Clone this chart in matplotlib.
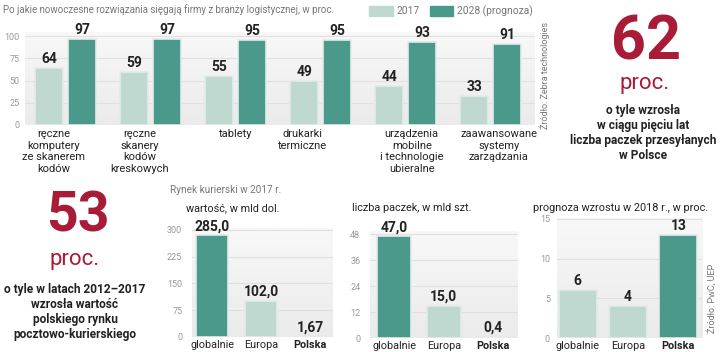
import numpy as np
import matplotlib
matplotlib.use("Agg")
import matplotlib.pyplot as plt
from matplotlib.patches import Patch
from matplotlib.colors import LinearSegmentedColormap

W, H = 720, 352
plt.rcParams["font.family"] = ["Roboto", "DejaVu Sans"]

LIGHT = "#bfd9d0"
DARK = "#4b998a"
RED = "#a81c38"
GREY = "#777777"
INK = "#222222"
EDGE = "#e4ebe8"

# --- data: top chart ---
tech_labels = ["ręczne\nkomputery\nze skanerem\nkodów", "ręczne\nskanery\nkodów\nkreskowych",
               "tablety", "drukarki\ntermiczne",
               "urządzenia\nmobilne\ni technologie\nubieralne", "zaawansowane\nsystemy\nzarządzania"]
v2017 = [64, 59, 55, 49, 44, 33]
v2028 = [97, 97, 95, 95, 93, 91]
top_ticks = [0, 25, 50, 75, 100]
label_dx = [-12, -11, 0, -18, 6, 8]   # px nudges of the category labels, as in the original

# --- data: bottom charts ---
regions = ["globalnie", "Europa", "Polska"]
value_mld = [285.0, 102.0, 1.67]
value_lbl = ["285,0", "102,0", "1,67"]
value_ticks = [0, 75, 150, 225, 300]
parcels = [47.0, 15.0, 0.4]
parcels_lbl = ["47,0", "15,0", "0,4"]
parcels_ticks = [0, 12, 24, 36, 48]
growth = [6, 4, 13]
growth_lbl = ["6", "4", "13"]
growth_ticks = [0, 5, 10, 15]

bg = LinearSegmentedColormap.from_list("bg", ["#f8f8f8", "#ebebeb"])


def px_axes(fig, x0, y0, x1, y1):
    # pixel box (top-left origin) -> figure axes
    return fig.add_axes([x0 / W, 1 - y1 / H, (x1 - x0) / W, (y1 - y0) / H])


def fxy(x, y):
    return x / W, 1 - y / H


def panel(ax, ticks, pad):
    grad = np.linspace(0, 1, 50).reshape(-1, 1)
    ax.imshow(grad, extent=[0, 1, 0, 1], transform=ax.transAxes, aspect="auto",
              cmap=bg, zorder=0)
    for s in ax.spines.values():
        s.set_visible(False)
    ax.set_yticks(ticks)
    ax.set_yticklabels([str(t) for t in ticks])
    ax.tick_params(axis="y", length=0, labelsize=6.5, labelcolor="#999999", pad=pad)
    ax.tick_params(axis="x", length=0)
    for t in ticks[1:]:
        ax.axhline(t, color="#e0e0e0", lw=0.8, zorder=1)
    ax.set_xticks([])


fig = plt.figure(figsize=(W / 100, H / 100), dpi=100)

# ---------- top chart ----------
ax = px_axes(fig, 25, 32, 535, 125)
panel(ax, top_ticks, 4)
ax.set_ylim(0, 104.5)
ax.set_xlim(-0.48, 5.52)
x = np.arange(len(tech_labels))
off, bw = 0.195, 0.33
b1 = ax.bar(x - off, v2017, bw, color=LIGHT, edgecolor=EDGE, lw=1.2, zorder=2)
b2 = ax.bar(x + off, v2028, bw, color=DARK, edgecolor=EDGE, lw=1.2, zorder=2)
for bars, vals in ((b1, v2017), (b2, v2028)):
    for b, v in zip(bars, vals):
        ax.annotate(str(v), (b.get_x() + b.get_width() / 2, v), xytext=(0, 1.5),
                    textcoords="offset points", ha="center", va="bottom",
                    fontsize=10, fontweight="bold", color=INK, annotation_clip=False)
for xi, lab, dx in zip(x, tech_labels, label_dx):
    ax.annotate(lab, (xi, 0), xytext=(dx * 0.72, -3), textcoords="offset points",
                ha="center", va="top", fontsize=8, color=INK, linespacing=1.2,
                annotation_clip=False)

fig.text(*fxy(3, 10), "Po jakie nowoczesne rozwiązania sięgają firmy z branży logistycznej, w proc.",
         fontsize=7, color=GREY, va="center")
fig.legend(handles=[Patch(color=LIGHT, label="2017"), Patch(color=DARK, label="2028 (prognoza)")],
           loc="center left", bbox_to_anchor=fxy(369, 11), ncol=2, frameon=False,
           fontsize=7.4, labelcolor=GREY, handlelength=2.3, handleheight=1.1,
           columnspacing=1.0, handletextpad=0.35, borderaxespad=0, borderpad=0)
fig.text(*fxy(545, 75), "Źródło: Zebra technologies", rotation=90, fontsize=6.5,
         color=GREY, ha="center", va="center")

# ---------- callouts ----------
fig.text(*fxy(646, 42), "62", fontsize=44, fontweight="bold", color=RED,
         ha="center", va="center")
fig.text(*fxy(645, 84), "proc.", fontsize=16, color=RED, ha="center", va="center")
fig.text(*fxy(643, 133), "o tyle wzrosła\nw ciągu pięciu lat\nliczba paczek przesyłanych\nw Polsce",
         fontsize=8.6, fontweight="bold", color=INK, ha="center", va="center",
         linespacing=1.22)

fig.text(*fxy(78, 217), "53", fontsize=40, fontweight="bold", color=RED,
         ha="center", va="center")
fig.text(*fxy(75, 259), "proc.", fontsize=16, color=RED, ha="center", va="center")
fig.text(*fxy(75, 312), "o tyle w latach 2012–2017\nwzrosła wartość\npolskiego rynku\npocztowo-kurierskiego",
         fontsize=8.6, fontweight="bold", color=INK, ha="center", va="center",
         linespacing=1.22)

# ---------- bottom charts ----------
fig.text(*fxy(170, 190), "Rynek kurierski w 2017 r.", fontsize=7.2, color=GREY, va="center")

specs = [
    ((192, 228, 333, 337), value_mld, value_lbl, value_ticks, 305, (-0.41, 2.47), 0.67,
     "wartość, w mld dol.", 233, 7),
    ((370, 231, 518, 338), parcels, parcels_lbl, parcels_ticks, 49.4, (-0.49, 2.5), 0.69,
     "liczba paczek, w mld szt.", 412, 7),
    ((557, 218, 702, 338), growth, growth_lbl, growth_ticks, 15.1, (-0.41, 2.47), 0.75,
     "prognoza wzrostu w 2018 r., w proc.", 621, 5),
]
for box, vals, lbls, ticks, top, xl, w, title, tx, pad in specs:
    a = px_axes(fig, *box)
    panel(a, ticks, pad)
    a.set_ylim(0, top)
    a.set_xlim(*xl)
    xr = np.arange(len(regions))
    hi = int(np.argmax(vals))
    cols = [DARK if i == hi else LIGHT for i in range(len(vals))]
    bars = a.bar(xr, vals, w, color=cols, edgecolor=EDGE, lw=1.2, zorder=2)
    for b, v, s in zip(bars, vals, lbls):
        a.annotate(s, (b.get_x() + b.get_width() / 2, v), xytext=(0, 1.5),
                   textcoords="offset points", ha="center", va="bottom",
                   fontsize=10, fontweight="bold", color=INK, annotation_clip=False)
    for xi, r in zip(xr, regions):
        a.annotate(r, (xi, 0), xytext=(0, -6), textcoords="offset points", ha="center",
                   va="center", fontsize=7.8, color=INK,
                   fontweight="bold" if r == "Polska" else "normal", annotation_clip=False)
    fig.text(*fxy(tx, 208), title, fontsize=7.8, color=INK, ha="center", va="center")

fig.text(*fxy(712, 298), "Źródło: PwC, UEP", rotation=90, fontsize=6.5,
         color=GREY, ha="center", va="center")

fig.savefig("out.png", dpi=100)
